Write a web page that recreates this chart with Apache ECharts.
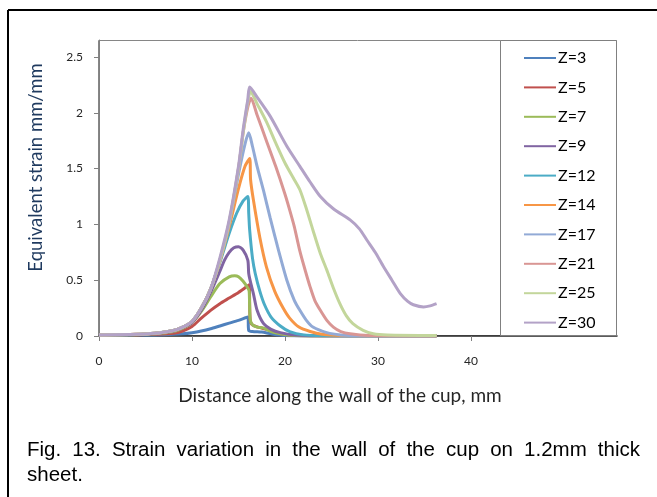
<!DOCTYPE html>
<html>
<head>
<meta charset="utf-8">
<script src="https://cdn.jsdelivr.net/npm/echarts@6/dist/echarts.min.js"></script>
<style>
  html, body { margin: 0; padding: 0; background: #fff; }
  #chart { position: absolute; left: 0; top: 0; width: 657px; height: 497px; }
  .cap { position: absolute; left: 27px; width: 613px;
    font-family: 'Liberation Sans', Arial, sans-serif; font-size: 20.5px; line-height: 24px;
    color: #000; white-space: nowrap; }
  #cap1 { top: 437px; text-align: justify; text-align-last: justify; white-space: normal; }
  #cap2 { top: 462px; text-align: left; }
</style>
</head>
<body>
<div id="chart"></div>
<div class="cap" id="cap1">Fig. 13. Strain variation in the wall of the cup on 1.2mm thick</div>
<div class="cap" id="cap2">sheet.</div>
<script>
// ---- data (distance mm, equivalent strain) ----
const seriesNames = ['Z=3','Z=5','Z=7','Z=9','Z=12','Z=14','Z=17','Z=21','Z=25','Z=30'];
const xTicks = [0, 10, 20, 30, 40];
const yTicks = [0, 0.5, 1, 1.5, 2, 2.5];

const z3  = [[0,0.005],[4,0.008],[6,0.01],[8,0.015],[9,0.02],[10,0.03],[11,0.045],[12,0.065],[13,0.09],[14,0.115],[15,0.14],[16,0.17],[16.1,0.05],[16.5,0.04],[17.5,0.035],[18.5,0.02],[20,0.005],[25,0],[36.3,0]];
const z5  = [[0,0.008],[4,0.01],[6,0.015],[8,0.025],[9,0.045],[10,0.085],[11,0.16],[12,0.23],[13,0.29],[14,0.34],[15,0.39],[16,0.45],[16.15,0.46],[16.25,0.15],[16.5,0.1],[17.5,0.07],[18.4,0.05],[19.5,0.02],[21,0.005],[25,0],[36.3,0]];
const z7  = [[0,0.01],[4,0.012],[6,0.02],[8,0.04],[9,0.07],[10,0.12],[11,0.22],[12,0.35],[13,0.47],[14,0.53],[14.6,0.54],[15,0.53],[15.5,0.49],[16,0.43],[16.15,0.4],[16.25,0.15],[16.5,0.1],[17,0.08],[17.7,0.07],[18.5,0.04],[19.5,0.02],[21,0.005],[25,0],[36.3,0]];
const z9  = [[0,0.01],[4,0.013],[6,0.022],[8,0.045],[9,0.075],[10,0.12],[11,0.23],[12,0.39],[13,0.58],[13.5,0.68],[14,0.75],[14.5,0.79],[15,0.8],[15.5,0.77],[16,0.68],[16.1,0.56],[16.3,0.48],[16.6,0.38],[17,0.23],[17.7,0.11],[18.5,0.06],[19.5,0.03],[21,0.01],[25,0],[36.3,0]];
const z12 = [[0,0.01],[4,0.014],[6,0.024],[8,0.05],[9,0.08],[10,0.13],[11,0.25],[12,0.42],[13,0.66],[14,0.92],[14.8,1.1],[15.5,1.21],[16,1.25],[16.1,1.1],[16.2,0.95],[16.5,0.7],[16.8,0.56],[17.3,0.4],[17.8,0.28],[18.5,0.17],[19.5,0.09],[20.5,0.04],[22,0.01],[24,0.003],[36.3,0]];
const z14 = [[0,0.01],[4,0.015],[6,0.025],[8,0.05],[9,0.08],[10,0.13],[11,0.25],[12,0.42],[13,0.67],[14,0.98],[15,1.32],[15.7,1.52],[16.2,1.59],[16.3,1.4],[16.6,1.22],[17.3,0.88],[18,0.62],[18.9,0.4],[19.8,0.25],[20.5,0.16],[21.5,0.08],[22.7,0.04],[24,0.015],[26,0.005],[36.3,0]];
const z17 = [[0,0.01],[4,0.015],[6,0.025],[8,0.05],[9,0.08],[10,0.13],[11,0.25],[12,0.42],[13,0.68],[14,1.01],[15,1.45],[15.7,1.72],[16.1,1.82],[16.5,1.7],[17,1.52],[17.7,1.3],[18.4,1.06],[19.2,0.8],[20.2,0.5],[21,0.32],[21.6,0.23],[22.3,0.14],[23,0.08],[24.5,0.03],[26,0.01],[28,0.003],[36.3,0]];
const z21 = [[0,0.01],[4,0.015],[6,0.025],[8,0.05],[9,0.08],[10,0.13],[11,0.25],[12,0.42],[13,0.68],[14,1.02],[15,1.5],[15.5,1.82],[16,2.05],[16.35,2.13],[17,1.98],[18,1.75],[19,1.52],[20,1.27],[20.5,1.13],[21,0.98],[21.6,0.76],[22.2,0.58],[22.7,0.44],[23.2,0.32],[23.8,0.23],[24.5,0.14],[25.2,0.08],[26,0.04],[27,0.02],[29,0.005],[36.3,0]];
const z25 = [[0,0.01],[4,0.015],[6,0.025],[8,0.05],[9,0.08],[10,0.13],[11,0.25],[12,0.42],[13,0.68],[14,1.02],[15,1.5],[15.5,1.82],[16,2.1],[16.3,2.19],[17,2.08],[18,1.92],[19,1.73],[20,1.55],[21,1.4],[21.6,1.31],[22.3,1.14],[23,0.95],[23.8,0.74],[24.5,0.59],[25.2,0.43],[25.9,0.29],[26.6,0.18],[27.3,0.11],[28.4,0.05],[29.5,0.02],[31,0.01],[36.3,0.005]];
const z30 = [[0,0.01],[4,0.015],[6,0.025],[8,0.05],[9,0.08],[10,0.13],[11,0.25],[12,0.42],[13,0.7],[14,1.04],[15,1.52],[15.5,1.85],[16,2.12],[16.2,2.23],[17,2.14],[18.4,1.97],[20.2,1.7],[21.6,1.52],[22.7,1.38],[23.8,1.25],[25.2,1.14],[27,1.04],[28,0.96],[28.8,0.86],[29.7,0.75],[30.6,0.62],[31.5,0.5],[32.4,0.38],[33.2,0.31],[33.8,0.28],[34.9,0.26],[35.6,0.27],[36.3,0.29]];

const seriesData = [z3, z5, z7, z9, z12, z14, z17, z21, z25, z30];
const colors = ['#4F81BD','#C0504D','#9BBB59','#8064A2','#4BACC6','#F79646','#92AAD6','#D99694','#C3D69B','#B3A2C7'];

const chart = echarts.init(document.getElementById('chart'), null, { renderer: 'canvas' });
const font = 'Lato, "Open Sans", sans-serif';

const option = {
  animation: false,
  backgroundColor: '#fff',
  grid: { left: 99, top: 40, right: 40, bottom: 161, containLabel: false },
  xAxis: {
    type: 'value', min: 0, max: 55.7,
    name: 'Distance along the wall of the cup, mm',
    nameLocation: 'middle', nameGap: 50,
    nameTextStyle: { fontFamily: font, fontSize: 19, color: '#262626', padding: [0, 0, 0, -36] },
    axisLine: { show: true, lineStyle: { color: '#262626', width: 1.5 } },
    axisTick: { show: true, length: 5, lineStyle: { color: '#808080' }, customValues: xTicks },
    axisLabel: { customValues: xTicks, fontFamily: font, fontSize: 12, color: '#262626', margin: 19 },
    splitLine: { show: false }
  },
  yAxis: {
    type: 'value', min: 0, max: 2.652,
    name: 'Equivalent strain mm/mm',
    nameLocation: 'middle', nameGap: 53, nameRotate: 90,
    nameTextStyle: { fontFamily: font, fontSize: 18.5, color: '#1F3A5F', padding: [0, 0, 0, 41] },
    axisLine: { show: true, lineStyle: { color: '#808080', width: 1 } },
    axisTick: { show: true, length: 5, lineStyle: { color: '#808080' }, customValues: yTicks },
    axisLabel: { customValues: yTicks, fontFamily: font, fontSize: 12, color: '#262626', margin: 16 },
    splitLine: { show: false }
  },
  legend: {
    orient: 'vertical', left: 518, top: 45,
    itemWidth: 32, itemHeight: 14, itemGap: 13.4,
    data: seriesNames,
    textStyle: { fontFamily: font, fontSize: 16, color: '#000', padding: [0,0,0,-3] },
    itemStyle: { opacity: 0 }
  },
  graphic: [
    { type: 'line', shape: { x1: 8, y1: 10, x2: 657, y2: 10 }, style: { stroke: '#000', lineWidth: 2 }, z: 100 },
    { type: 'line', shape: { x1: 8, y1: 10, x2: 8, y2: 497 }, style: { stroke: '#000', lineWidth: 2 }, z: 100 },
    { type: 'rect', shape: { x: 98.5, y: 40.5, width: 518, height: 295 }, style: { fill: 'none', stroke: '#868686', lineWidth: 1 }, z: -1 },
    { type: 'rect', shape: { x: 500.5, y: 40.5, width: 116, height: 295 }, style: { fill: '#fff', stroke: '#808080', lineWidth: 1 }, z: 1 }
  ],
  series: seriesData.map((d, i) => ({
    name: seriesNames[i],
    type: 'line',
    data: d,
    symbol: 'none',
    smooth: 0.25,
    lineStyle: { color: colors[i], width: 3 },
    itemStyle: { color: colors[i] },
    z: 2 + i
  }))
};
chart.setOption(option);
</script>
</body>
</html>
